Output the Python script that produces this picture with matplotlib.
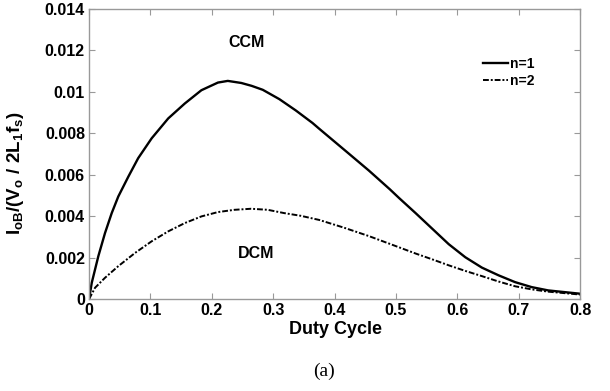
import numpy as np
import matplotlib.pyplot as plt

# values
duty_n1 = [0.0, 0.0044, 0.0151, 0.026, 0.0369, 0.0476, 0.064, 0.080, 0.102,
           0.129, 0.156, 0.183, 0.210, 0.226, 0.248, 0.265, 0.283, 0.310,
           0.337, 0.364, 0.375, 0.42, 0.456, 0.49, 0.505, 0.532, 0.559, 0.586,
           0.613, 0.640, 0.667, 0.694, 0.721, 0.748, 0.8]
iob_n1 = [0.0, 0.00079, 0.00207, 0.00319, 0.00415, 0.00495, 0.00591, 0.0068,
          0.00776, 0.00872, 0.00944, 0.01008, 0.01045, 0.01053, 0.01043,
          0.01029, 0.0101, 0.00965, 0.0091, 0.0085, 0.00822, 0.0071, 0.0062,
          0.0053, 0.00488, 0.00415, 0.0034, 0.00265, 0.00202, 0.00152,
          0.00115, 0.00082, 0.00058, 0.00042, 0.00026]

duty_n2 = [0.0, 0.0098, 0.026, 0.0476, 0.075, 0.102, 0.129, 0.156, 0.183,
           0.210, 0.237, 0.264, 0.291, 0.318, 0.345, 0.375, 0.415, 0.456,
           0.505, 0.532, 0.559, 0.586, 0.613, 0.640, 0.667, 0.694, 0.721,
           0.748, 0.8]
iob_n2 = [0.0, 0.00055, 0.00103, 0.00159, 0.00223, 0.00279, 0.00327, 0.00367,
          0.00399, 0.0042, 0.00431, 0.00436, 0.00431, 0.00415, 0.00402,
          0.00382, 0.00345, 0.00304, 0.0025, 0.0022, 0.00192, 0.00163,
          0.00136, 0.00111, 0.00085, 0.00062, 0.00047, 0.00036, 0.00022]

xticks = [0, 0.1, 0.2, 0.3, 0.4, 0.5, 0.6, 0.7, 0.8]
xticklabels = ['0', '0.1', '0.2', '0.3', '0.4', '0.5', '0.6', '0.7', '0.8']
yticks = [0, 0.002, 0.004, 0.006, 0.008, 0.01, 0.012, 0.014]
yticklabels = ['0', '0.002', '0.004', '0.006', '0.008', '0.01', '0.012', '0.014']

plt.rcParams['font.family'] = ['Liberation Sans', 'DejaVu Sans']
plt.rcParams['mathtext.fontset'] = 'custom'
plt.rcParams['mathtext.rm'] = 'Liberation Sans:bold'
plt.rcParams['mathtext.it'] = 'Liberation Sans:bold'
plt.rcParams['mathtext.bf'] = 'Liberation Sans:bold'

fig = plt.figure(figsize=(6.1, 3.91), dpi=100)
ax = fig.add_axes([0.146, 0.235, 0.805, 0.742])

ax.plot(duty_n1, iob_n1, color='black', lw=1.7, label='n=1')
ax.plot(duty_n2, iob_n2, color='black', lw=1.4, dashes=(3, 1, 1, 1), label='n=2')

ax.set_xlim(0, 0.8)
ax.set_ylim(0, 0.014)
ax.set_xticks(xticks)
ax.set_xticklabels(xticklabels, fontweight='bold', fontsize=11.5)
ax.set_yticks(yticks)
ax.set_yticklabels(yticklabels, fontweight='bold', fontsize=11.5)
ax.tick_params(direction='in', top=True, right=True, length=4, color='#999999', pad=3)
for s in ax.spines.values():
    s.set_color('#999999')
    s.set_linewidth(1.0)

ax.set_xlabel('Duty Cycle', fontweight='bold', fontsize=13)
ax.xaxis.set_label_coords(0.502, -0.075)
ax.set_ylabel(r'$\mathrm{I_{oB}/(V_o\ /\ 2L_1 f_s)}$', fontsize=13.5)
ax.yaxis.set_label_coords(-0.128, 0.434)

ax.text(0.256, 0.0124, 'CCM', fontweight='bold', fontsize=11.5, ha='center', va='center')
ax.text(0.272, 0.00218, 'DCM', fontweight='bold', fontsize=11.5, ha='center', va='center')

leg = ax.legend(loc='upper left', bbox_to_anchor=(0.802, 0.835), frameon=False,
                borderpad=0, borderaxespad=0,
                handlelength=1.8, handletextpad=0.15, labelspacing=0.25,
                prop={'weight': 'bold', 'size': 10})

fig.text(0.531, 0.049, '(a)', family='Liberation Serif', fontsize=14, ha='center', va='center')

fig.savefig('out.png', dpi=100)
